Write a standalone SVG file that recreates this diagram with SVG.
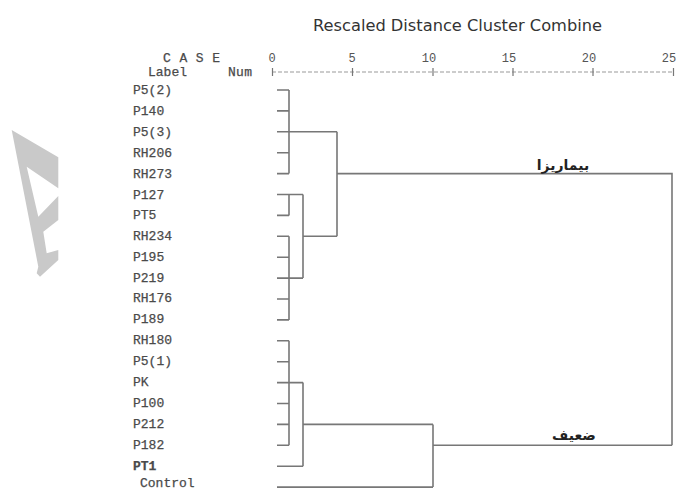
<svg xmlns="http://www.w3.org/2000/svg" width="678" height="491" viewBox="0 0 678 491">
<style>
.lbl{font-family:"Liberation Mono","DejaVu Sans Mono",monospace;font-size:13px;fill:#4a4a4a;stroke:#4a4a4a;stroke-width:0.25}
.ax{font-family:"Liberation Mono","DejaVu Sans Mono",monospace;font-size:12px;fill:#555}
.title{font-family:"DejaVu Sans","Liberation Sans",sans-serif;font-size:16px;fill:#333}
.ar{font-family:"DejaVu Sans","Noto Sans",sans-serif;font-size:14px;font-weight:bold;fill:#222}
.ln{stroke:#777;stroke-width:1.6;fill:none}
.axis{stroke:#999;stroke-width:1.2;stroke-dasharray:4 2;fill:none}
.tick{stroke:#777;stroke-width:1.2}
</style>
<rect width="678" height="491" fill="#fff"/>
<polygon fill="#c9c9c9" points="11.7,130 58.3,157.3 58.3,188.3 26.7,166.7 38.3,216.7 58.3,196 58.3,220 43.3,231.7 46.7,253.3 58.3,250 58.3,260 40,276.7 36.7,273.3 38.3,266.7"/>
<text class="title" x="313" y="31" textLength="289" lengthAdjust="spacingAndGlyphs">Rescaled Distance Cluster Combine</text>
<g id="axis">
<text class="lbl" x="163" y="62" textLength="57">C A S E</text>
<text class="lbl" x="148" y="76" textLength="39">Label</text>
<text class="lbl" x="228" y="76" textLength="24">Num</text>
<text class="ax" x="272" y="62" text-anchor="middle">0</text>
<text class="ax" x="352" y="62" text-anchor="middle">5</text>
<text class="ax" x="429" y="62" text-anchor="middle">10</text>
<text class="ax" x="509" y="62" text-anchor="middle">15</text>
<text class="ax" x="589" y="62" text-anchor="middle">20</text>
<text class="ax" x="669" y="62" text-anchor="middle">25</text>
<line class="axis" x1="272" y1="72" x2="674" y2="72"/>
<path class="tick" d="M272.5 68v8M352.5 68v8M433 68v8M513 68v8M593 68v8M673.5 68v8"/>
</g>
<g id="n-P5-2"><text class="lbl" x="133" y="94">P5(2)</text></g>
<g id="n-P140"><text class="lbl" x="133" y="115">P140</text></g>
<g id="n-P5-3"><text class="lbl" x="133" y="136">P5(3)</text></g>
<g id="n-RH206"><text class="lbl" x="133" y="157">RH206</text></g>
<g id="n-RH273"><text class="lbl" x="133" y="177.5">RH273</text></g>
<g id="n-P127"><text class="lbl" x="133" y="198.5">P127</text></g>
<g id="n-PT5"><text class="lbl" x="133" y="219">PT5</text></g>
<g id="n-RH234"><text class="lbl" x="133" y="240">RH234</text></g>
<g id="n-P195"><text class="lbl" x="133" y="261">P195</text></g>
<g id="n-P219"><text class="lbl" x="133" y="281.5">P219</text></g>
<g id="n-RH176"><text class="lbl" x="133" y="302">RH176</text></g>
<g id="n-P189"><text class="lbl" x="133" y="323">P189</text></g>
<g id="n-RH180"><text class="lbl" x="133" y="344">RH180</text></g>
<g id="n-P5-1"><text class="lbl" x="133" y="365">P5(1)</text></g>
<g id="n-PK"><text class="lbl" x="133" y="386" font-size="10">PK</text></g>
<g id="n-P100"><text class="lbl" x="133" y="407">P100</text></g>
<g id="n-P212"><text class="lbl" x="133" y="428">P212</text></g>
<g id="n-P182"><text class="lbl" x="133" y="449">P182</text></g>
<g id="n-PT1"><text class="lbl" x="133" y="470" style="font-weight:bold">PT1</text></g>
<g id="n-Control"><text class="lbl" x="140" y="486.5" font-size="11.5">Control</text></g>
<g id="connectors">
<path class="ln" d="M277 90H289M277 110.9H289M277 131.8H337M277 152.7H289M277 173.6H289M289 90V173.6"/>
<path class="ln" d="M277 194.5H303M277 215.4H289M289 194.5V215.4"/>
<path class="ln" d="M277 236.3H289M277 257.2H289M277 278.1H303M277 299H289M277 319.9H289M289 236.3V319.9M303 194.5V278.1M303 236.3H337"/>
<path class="ln" d="M337 131.8V236.3M337 173.6H672V445.3"/>
<path class="ln" d="M277 340.8H289M277 361.7H289M277 382.6H303M277 403.5H289M277 424.4H289M277 445.3H289M289 340.8V445.3"/>
<path class="ln" d="M277 466.2H303M303 382.6V466.2M303 424.4H433M277 487.1H433M433 424.4V487.1M433 445.3H672"/>
</g>
<g id="label-pathogenic"><text class="ar" x="563" y="170" text-anchor="middle" direction="rtl" font-size="12.5">بیماریزا</text></g>
<g id="label-weak"><text class="ar" x="574" y="440" text-anchor="middle" direction="rtl">ضعیف</text></g>
</svg>
